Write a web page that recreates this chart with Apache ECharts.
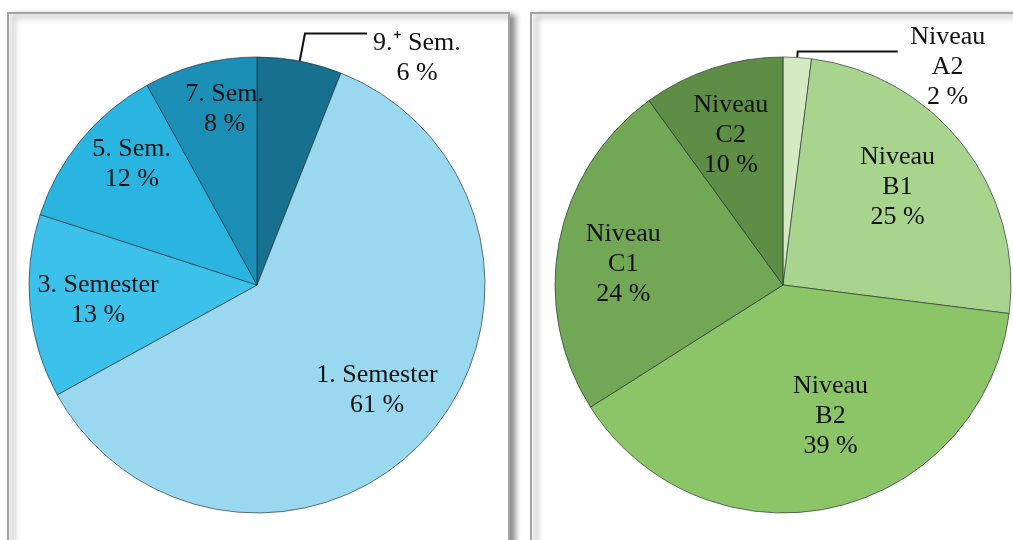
<!DOCTYPE html>
<html>
<head>
<meta charset="utf-8">
<script src="https://cdn.jsdelivr.net/npm/echarts@6/dist/echarts.min.js"></script>
<style>
html,body{margin:0;padding:0;background:#fff;}
#c{width:1013px;height:540px;}
</style>
</head>
<body>
<div id="c"></div>
<script>
// Left pie: semester (clockwise from 12 o'clock)
const semesterNames = ['9.\u207A Sem.', '1. Semester', '3. Semester', '5. Sem.', '7. Sem.'];
const semesterValues = [6, 61, 13, 12, 8];
const semesterColors = ['#17708d', '#9ad8f0', '#3cc2ea', '#2ab5e1', '#1c8fb7'];

// Right pie: language level (clockwise from 12 o'clock)
const levelNames = ['Niveau\nA2', 'Niveau\nB1', 'Niveau\nB2', 'Niveau\nC1', 'Niveau\nC2'];
const levelValues = [2, 25, 39, 24, 10];
const levelColors = ['#d3eac3', '#a8d48e', '#8cc567', '#72a755', '#5e8d45'];

const FONT = '"Liberation Serif", "Times New Roman", serif';
const FS = 26;
const R = 228;
// small nudges of inside labels (label placement only)
const semesterLabelNudge = [[0, 0], [-2, -2], [3, 0], [0, -17], [8, -18]];
const levelLabelNudge = [[0, 0], [-14, 2], [12, -28], [0, 10], [-2, 5]];

function lines(name, value) {
  return (name + '\n' + value + ' %').split('\n');
}

function mainSeries(names, values, colors, center, outsideIdx, lenA, lenB, padTop) {
  return {
    type: 'pie',
    center: center,
    radius: R,
    startAngle: 90,
    clockwise: true,
    avoidLabelOverlap: false,
    silent: true,
    itemStyle: { borderColor: 'rgba(25,35,45,0.6)', borderWidth: 1 },
    label: { show: false },
    labelLine: { show: false },
    data: names.map((n, i) => {
      const d = { name: n, value: values[i], itemStyle: { color: colors[i] } };
      if (i === outsideIdx) {
        d.label = {
          show: true,
          position: 'outside',
          distanceToLabelLine: 4,
          padding: [padTop, 0, 0, 0],
          formatter: p => lines(p.name, p.value).map(s => '{o|' + s + '}').join('\n'),
          rich: { o: { width: 92, align: 'center', fontFamily: FONT, fontSize: FS, lineHeight: 30, color: '#111' } }
        };
        d.labelLine = { show: true, length: lenA, length2: lenB, lineStyle: { color: '#111', width: 2 } };
      }
      return d;
    })
  };
}

function labelSeries(names, values, center, outsideIdx, nudge) {
  return {
    type: 'pie',
    center: center,
    radius: [R * 0.4, R],
    startAngle: 90,
    clockwise: true,
    silent: true,
    avoidLabelOverlap: false,
    itemStyle: { color: 'rgba(0,0,0,0)' },
    label: {
      show: true,
      position: 'inside',
      fontFamily: FONT,
      fontSize: FS,
      lineHeight: 30,
      color: '#111',
      formatter: p => p.name + '\n' + p.value + ' %'
    },
    labelLine: { show: false },
    data: names.map((n, i) => ({ name: n, value: values[i], label: { show: i !== outsideIdx, offset: nudge[i] } }))
  };
}

const chart = echarts.init(document.getElementById('c'));
chart.setOption({
  backgroundColor: '#fff',
  animation: false,
  graphic: [
    { type: 'rect', z: -10, shape: { x: 8, y: 13, width: 501, height: 560 },
      style: { fill: '#fff', stroke: '#a3a3a3', lineWidth: 2, shadowBlur: 6, shadowOffsetX: 5, shadowOffsetY: 3, shadowColor: 'rgba(0,0,0,0.45)' } },
    { type: 'rect', z: -10, shape: { x: 531, y: 13, width: 520, height: 560 },
      style: { fill: '#fff', stroke: '#a3a3a3', lineWidth: 2, shadowBlur: 6, shadowOffsetX: 5, shadowOffsetY: 3, shadowColor: 'rgba(0,0,0,0.45)' } }
  ],
  series: [
    mainSeries(semesterNames, semesterValues, semesterColors, [257, 285], 0, 28, 62, 50),
    labelSeries(semesterNames, semesterValues, [257, 285], 0, semesterLabelNudge),
    mainSeries(levelNames, levelValues, levelColors, [783, 285], 0, 6, 100, 32),
    labelSeries(levelNames, levelValues, [783, 285], 0, levelLabelNudge)
  ]
});
</script>
</body>
</html>
